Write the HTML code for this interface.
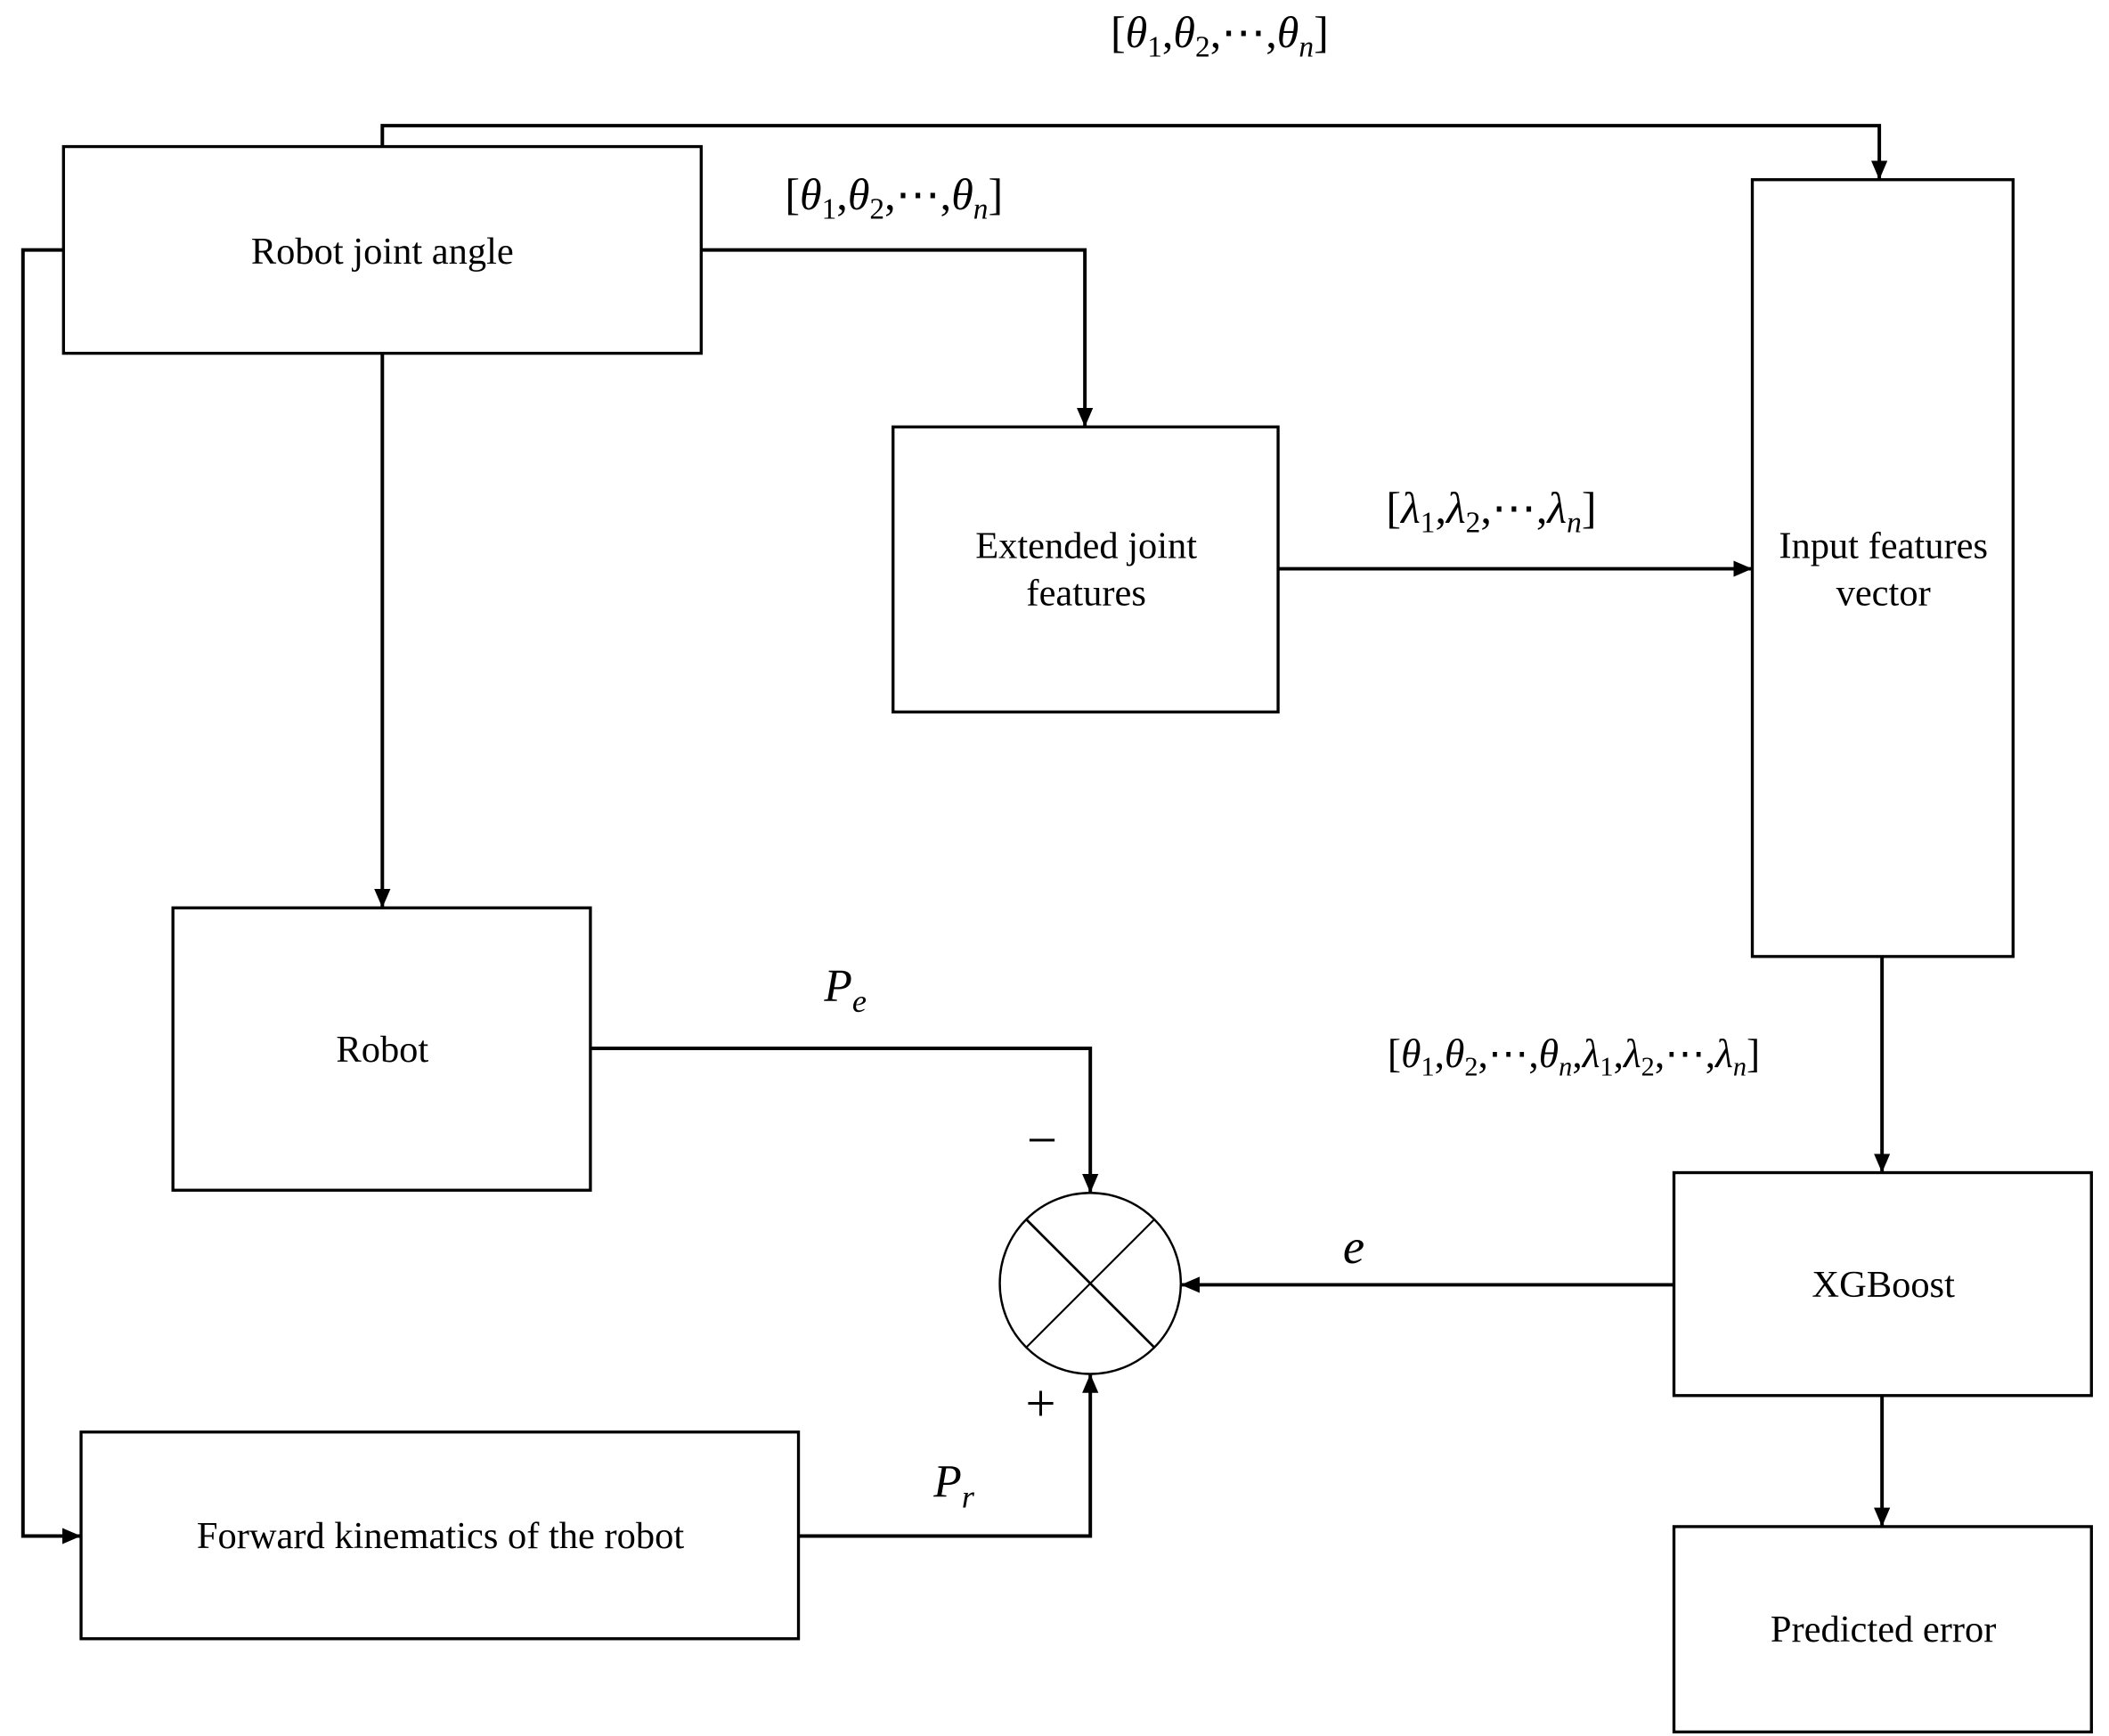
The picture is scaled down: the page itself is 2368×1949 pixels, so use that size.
<!DOCTYPE html>
<html><head><meta charset="utf-8"><style>
html,body{margin:0;padding:0;background:#fff}
svg{display:block}
text{font-family:"Liberation Serif",serif;fill:#000}
.m{font-style:italic}
</style></head><body>
<svg width="2368" height="1949" viewBox="0 0 1561 1285" preserveAspectRatio="none" xmlns="http://www.w3.org/2000/svg">
<defs>
<marker id="a" viewBox="0 0 14 12" refX="14" refY="6" markerWidth="14" markerHeight="12" markerUnits="userSpaceOnUse" orient="auto">
<path d="M0,0 L14,6 L0,12 z" fill="#000"/></marker>
</defs>
<g fill="none" stroke="#000" stroke-width="2.2">
<rect x="47" y="108.5" width="472" height="153"/>
<rect x="661" y="316" width="285" height="211"/>
<rect x="1297" y="133" width="193" height="575"/>
<rect x="128" y="672" width="309" height="209"/>
<rect x="1239" y="868" width="309" height="165"/>
<rect x="1239" y="1130" width="309" height="152"/>
<rect x="60" y="1060" width="531" height="153"/>
<circle cx="807" cy="950" r="67" stroke-width="1.6"/>
<line x1="760" y1="903" x2="854" y2="997" stroke-width="1.8"/>
<line x1="854" y1="903" x2="760" y2="997" stroke-width="1.4"/>
</g>
<g fill="none" stroke="#000" stroke-width="2.6" marker-end="url(#a)">
<polyline points="283,108 283,93 1391,93 1391,133"/>
<polyline points="47,185 17,185 17,1137 60,1137"/>
<polyline points="519,185 803,185 803,316"/>
<polyline points="283,261 283,672"/>
<polyline points="946,421 1297,421"/>
<polyline points="1393,708 1393,868"/>
<polyline points="437,776 807,776 807,883"/>
<polyline points="591,1137 807,1137 807,1017"/>
<polyline points="1239,951 874,951"/>
<polyline points="1393,1033 1393,1130"/>
</g>
<g font-size="28" text-anchor="middle">
<text x="283" y="195">Robot joint angle</text>
<text x="804" y="413">Extended joint</text>
<text x="804" y="448">features</text>
<text x="1394" y="413">Input features</text>
<text x="1394" y="448">vector</text>
<text x="283" y="786">Robot</text>
<text x="1394" y="960">XGBoost</text>
<text x="1394" y="1215">Predicted error</text>
<text x="326" y="1146">Forward kinematics of the robot</text>
</g>
<g font-size="33">
<text x="822" y="35">[<tspan class="m">θ</tspan><tspan font-size="22" dy="7">1</tspan><tspan dy="-7">,</tspan><tspan class="m">θ</tspan><tspan font-size="22" dy="7">2</tspan><tspan dy="-7">,⋯,</tspan><tspan class="m">θ</tspan><tspan font-size="22" dy="7" class="m">n</tspan><tspan dy="-7">]</tspan></text>
<text x="581" y="155">[<tspan class="m">θ</tspan><tspan font-size="22" dy="7">1</tspan><tspan dy="-7">,</tspan><tspan class="m">θ</tspan><tspan font-size="22" dy="7">2</tspan><tspan dy="-7">,⋯,</tspan><tspan class="m">θ</tspan><tspan font-size="22" dy="7" class="m">n</tspan><tspan dy="-7">]</tspan></text>
<text x="1026" y="387">[<tspan class="m">λ</tspan><tspan font-size="22" dy="7">1</tspan><tspan dy="-7">,</tspan><tspan class="m">λ</tspan><tspan font-size="22" dy="7">2</tspan><tspan dy="-7">,⋯,</tspan><tspan class="m">λ</tspan><tspan font-size="22" dy="7" class="m">n</tspan><tspan dy="-7">]</tspan></text>
<text x="1027" y="790" font-size="30">[<tspan class="m">θ</tspan><tspan font-size="20" dy="6">1</tspan><tspan dy="-6">,</tspan><tspan class="m">θ</tspan><tspan font-size="20" dy="6">2</tspan><tspan dy="-6">,⋯,</tspan><tspan class="m">θ</tspan><tspan font-size="20" dy="6" class="m">n</tspan><tspan dy="-6">,</tspan><tspan class="m">λ</tspan><tspan font-size="20" dy="6">1</tspan><tspan dy="-6">,</tspan><tspan class="m">λ</tspan><tspan font-size="20" dy="6">2</tspan><tspan dy="-6">,⋯,</tspan><tspan class="m">λ</tspan><tspan font-size="20" dy="6" class="m">n</tspan><tspan dy="-6">]</tspan></text>
<text x="610" y="741" class="m" font-size="34">P<tspan font-size="24" dy="8">e</tspan></text>
<text x="691" y="1108" class="m" font-size="34">P<tspan font-size="24" dy="8">r</tspan></text>
<text x="994" y="935" class="m" font-size="36">e</text>
<text x="760" y="857" font-size="40">−</text>
<text x="759" y="1052" font-size="40">+</text>
</g>
</svg>
</body></html>
